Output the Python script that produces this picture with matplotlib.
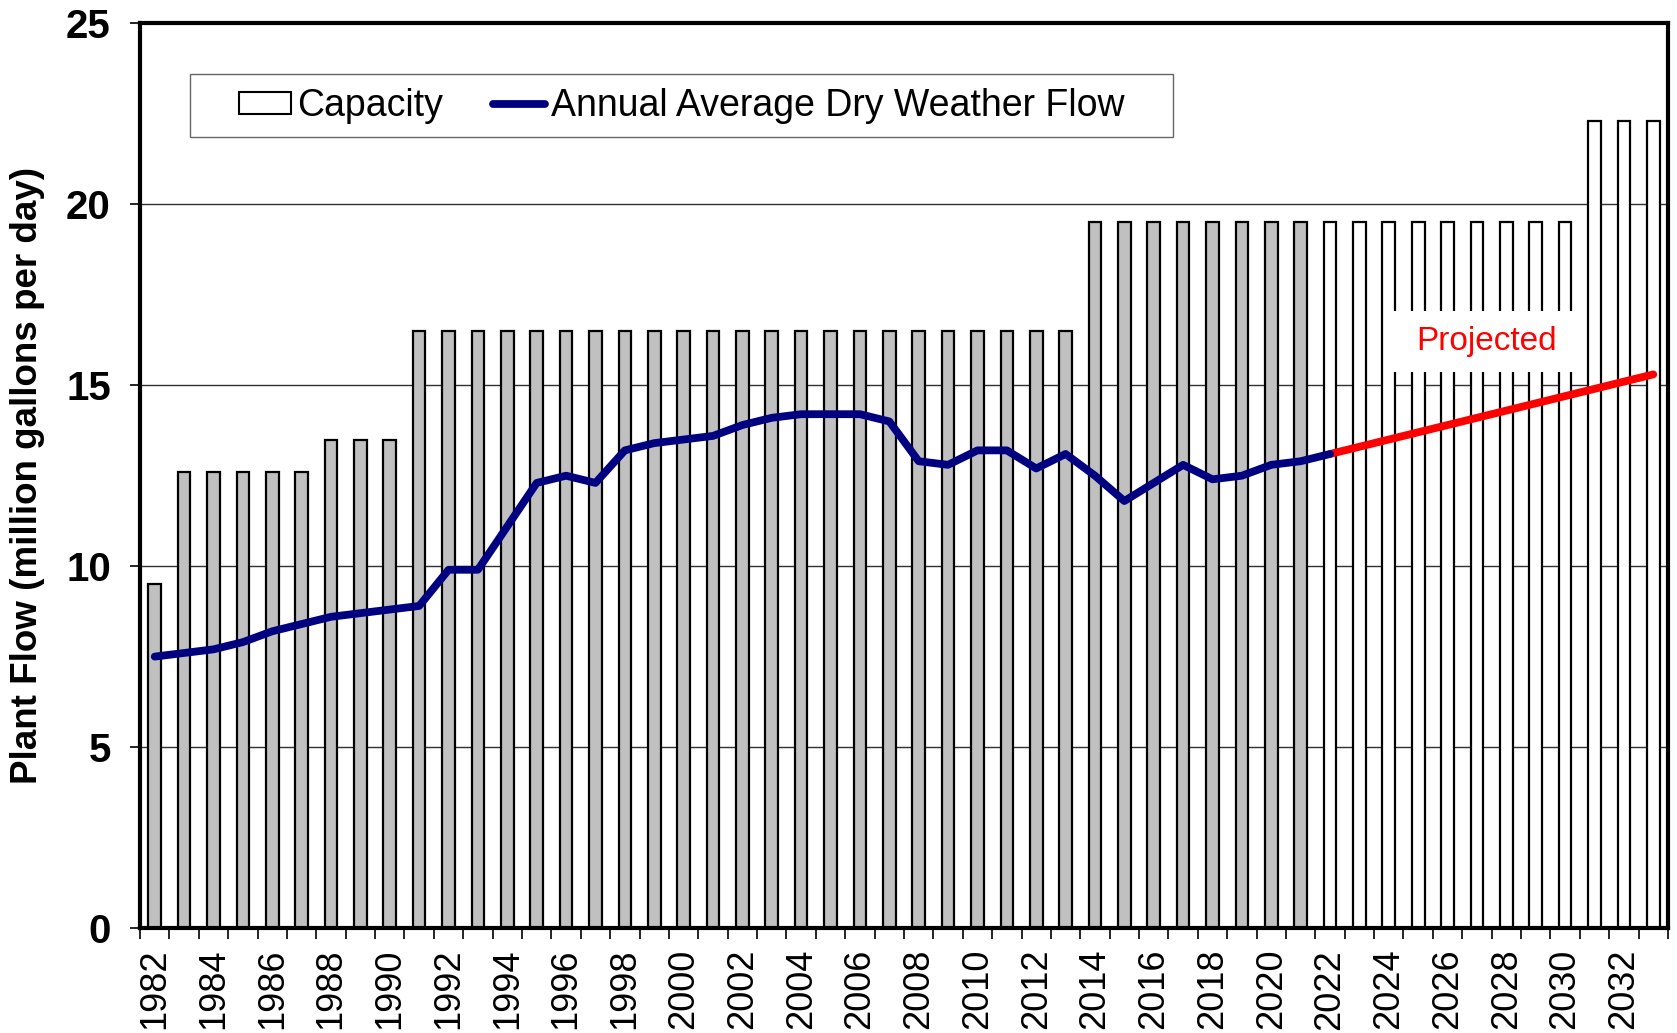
import matplotlib
matplotlib.use("Agg")
import matplotlib.pyplot as plt
from matplotlib.patches import Patch
from matplotlib.lines import Line2D
from matplotlib.path import Path
import numpy as np

years = list(range(1982, 2034))
capacity = [9.5, 12.6, 12.6, 12.6, 12.6, 12.6, 13.5, 13.5, 13.5,
            16.5, 16.5, 16.5, 16.5, 16.5, 16.5, 16.5, 16.5, 16.5, 16.5,
            16.5, 16.5, 16.5, 16.5, 16.5, 16.5, 16.5, 16.5, 16.5, 16.5,
            16.5, 16.5, 16.5,
            19.5, 19.5, 19.5, 19.5, 19.5, 19.5, 19.5, 19.5, 19.5, 19.5,
            19.5, 19.5, 19.5, 19.5, 19.5, 19.5, 19.5,
            22.3, 22.3, 22.3]
last_actual_capacity_year = 2021

flow_years = list(range(1982, 2023))
flow = [7.5, 7.6, 7.7, 7.9, 8.2, 8.4, 8.6, 8.7, 8.8, 8.9,
        9.9, 9.9, 11.1, 12.3, 12.5, 12.3, 13.2, 13.4, 13.5, 13.6,
        13.9, 14.1, 14.2, 14.2, 14.2, 14.0, 12.9, 12.8, 13.2, 13.2,
        12.7, 13.1, 12.5, 11.8, 12.3, 12.8, 12.4, 12.5, 12.8, 12.9,
        13.1]
proj_years = list(range(2022, 2034))
proj = [13.1, 13.3, 13.5, 13.7, 13.9, 14.1, 14.3, 14.5, 14.7, 14.9, 15.1, 15.3]


def padded_box(padx, pady):
    def box(x0, y0, width, height, mutation_size):
        px = padx * mutation_size
        py = pady * mutation_size
        x0 -= px
        y0 -= py
        w = width + 2 * px
        h = height + 2 * py
        return Path([(x0, y0), (x0 + w, y0), (x0 + w, y0 + h), (x0, y0 + h), (x0, y0)],
                    closed=True)
    return box


plt.rcParams['font.family'] = ['Liberation Sans', 'DejaVu Sans']

fig = plt.figure(figsize=(16.77, 10.33), dpi=100)
ax = fig.add_axes([0.0835, 0.1017, 0.9111, 0.8756])

x = np.arange(len(years))
colors = ['#c0c0c0' if y <= last_actual_capacity_year else 'white' for y in years]
ax.bar(x, capacity, width=0.43, color=colors, edgecolor='black', linewidth=1.6, zorder=2)

fx = [years.index(y) for y in flow_years]
px = [years.index(y) for y in proj_years]
ax.plot(fx, flow, color='#000080', linewidth=5.6, solid_capstyle='round',
        solid_joinstyle='round', zorder=4)
ax.plot(px, proj, color='#ff0000', linewidth=5.6, solid_capstyle='round', zorder=3)

ax.set_xlim(-0.5, len(years) - 0.5)
ax.set_ylim(0, 25)
ax.set_yticks([0, 5, 10, 15, 20, 25])
ax.yaxis.grid(True, color='#303030', linewidth=1.0, zorder=0)
ax.set_axisbelow(True)

even = [i for i, y in enumerate(years) if y % 2 == 0]
ax.set_xticks(even)
ax.set_xticklabels([str(years[i]) for i in even], rotation=90, fontsize=26)
ax.set_xticks(np.arange(-0.5, len(years)), minor=True)
ax.tick_params(axis='x', which='major', length=0, pad=15)
ax.tick_params(axis='x', which='minor', length=8, width=1.2, direction='out')
ax.tick_params(axis='y', length=7, width=1.2, direction='out', pad=14)
for lab in ax.get_yticklabels():
    lab.set_fontsize(29)
    lab.set_fontweight('bold')

ax.set_ylabel('Plant Flow (million gallons per day)', fontsize=26.5, fontweight='bold',
              labelpad=15)

for s in ax.spines.values():
    s.set_linewidth(3)
    s.set_color('black')

handles = [Patch(facecolor='white', edgecolor='black', linewidth=1.5, label='Capacity'),
           Line2D([0], [0], color='#000080', linewidth=5.6, solid_capstyle='round',
                  label='Annual Average Dry Weather Flow')]
leg = ax.legend(handles=handles, loc='upper left', bbox_to_anchor=(0.0585, 0.939), ncol=2,
                fontsize=27, frameon=True, fancybox=False, edgecolor='#404040',
                handlelength=1.39, handleheight=0.53, handletextpad=0.16,
                columnspacing=1.33, borderpad=0.25, borderaxespad=0)
leg.get_frame().set_linewidth(1.0)
leg.legendPatch.set_boxstyle(padded_box(1.04, 0.11))

ax.text(45.34, 16.2, 'Projected', color='red', fontsize=24, ha='center', va='center',
        family=['Liberation Sans Narrow', 'Liberation Sans'],
        bbox=dict(boxstyle=padded_box(0.82, 0.45), facecolor='white', edgecolor='none'),
        zorder=5)

fig.savefig('out.png', dpi=100)
